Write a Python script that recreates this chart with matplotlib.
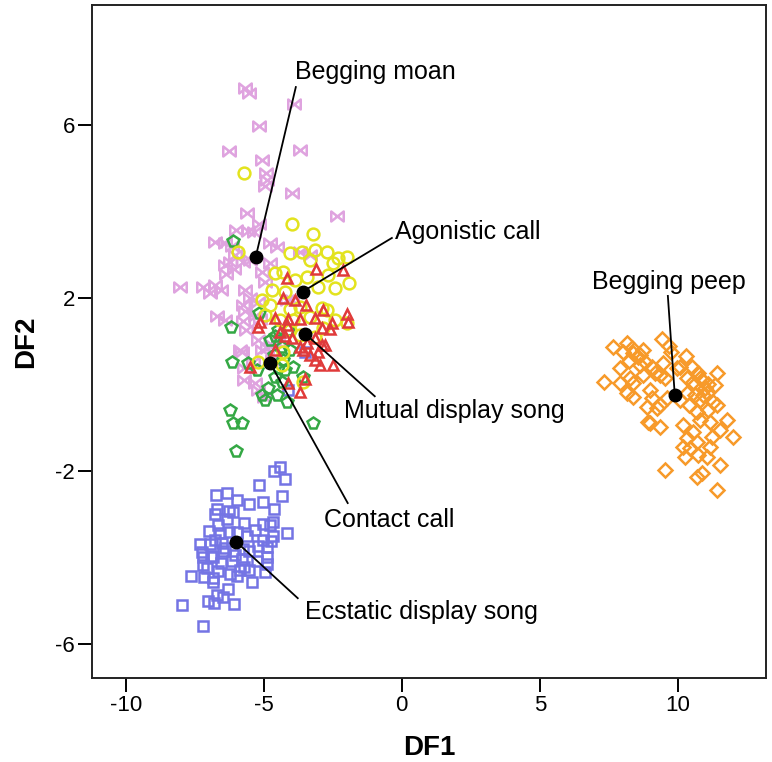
import numpy as np
import matplotlib
matplotlib.use("Agg")
import matplotlib.pyplot as plt
from matplotlib.path import Path

plt.rcParams["font.family"] = ["Liberation Sans", "DejaVu Sans"]
plt.rcParams["axes.unicode_minus"] = False

# ── discriminant scores ──────────────────────────────────────────────────
moan_x = [-5.69, -5.54, -3.91, -5.18, -6.27, -3.70, -5.07, -4.93, -4.89, -4.96,
          -3.99, -5.62, -5.18, -2.36, -6.01, -5.58, -5.36, -6.78, -6.16, -6.41,
          -4.78, -3.70, -3.33, -6.38, -6.09, -5.07, -5.51, -5.76, -8.04, -7.21,
          -6.78, -6.56, -6.96, -5.69, -4.96, -5.76, -5.51, -5.22, -5.69, -5.33,
          -6.70, -6.41, -5.76, -5.14, -5.65, -5.07, -4.89, -5.87, -5.80, -5.40,
          -5.72, -5.72, -5.33, -5.00, -5.22, -4.17, -3.99, -4.71, -4.71, -4.49,
          -5.22, -6.05, -6.23, -6.41, -4.78, -4.53]
moan_y = [6.86, 6.74, 6.49, 5.98, 5.40, 5.42, 5.19, 4.89, 4.73, 4.59,
          4.43, 3.97, 3.71, 3.90, 3.57, 3.55, 3.53, 3.29, 3.20, 3.27,
          3.27, 3.06, 2.99, 2.55, 2.67, 2.60, 2.88, 2.83, 2.25, 2.25,
          2.30, 2.18, 2.12, 2.18, 2.37, 1.84, 2.00, 1.91, 1.70, 1.58,
          1.58, 1.49, 1.47, 1.51, 1.26, 0.80, 0.84, 0.80, 0.75, 0.52,
          0.38, 0.10, 0.03, -0.29, 1.03, 1.95, 1.95, 0.57, 0.91, 0.96,
          -0.13, 2.99, 2.83, 2.76, 2.81, 3.18]

agon_x = [-5.72, -3.99, -3.22, -5.94, -4.06, -3.62, -3.15, -2.72, -1.99, -2.50,
          -2.32, -3.33, -4.60, -4.31, -3.88, -3.44, -3.04, -2.68, -2.43, -4.71,
          -4.24, -4.78, -4.06, -3.70, -3.33, -2.90, -2.43, -1.99, -3.95, -4.31,
          -4.35, -3.59, -5.22, -3.15, -2.86, -1.92, -4.96, -5.07, -4.42, -4.06,
          -3.70, -2.72]
agon_y = [4.89, 3.71, 3.48, 3.06, 3.04, 3.06, 3.11, 3.06, 2.95, 2.81,
          2.92, 2.88, 2.58, 2.60, 2.42, 2.49, 2.25, 2.53, 2.23, 2.18,
          2.14, 1.84, 1.75, 1.79, 1.56, 1.77, 1.49, 1.42, 1.49, 0.75,
          0.45, 0.06, 0.52, 1.10, 1.31, 2.35, 1.61, 1.95, 1.49, 1.26,
          1.14, 1.72]

mutual_x = [-3.12, -4.17, -4.31, -3.88, -3.48, -2.86, -1.99, -3.15, -3.70, -4.13,
            -5.22, -4.17, -2.90, -2.54, -2.61, -4.24, -3.99, -3.15, -2.90, -2.79,
            -3.70, -3.59, -4.60, -5.51, -2.97, -2.50, -4.13, -3.51, -3.44, -2.14,
            -1.96, -3.70, -3.15, -4.60, -5.14, -4.42, -3.33, -3.04]
mutual_y = [2.67, 2.46, 2.00, 1.95, 1.84, 1.72, 1.63, 1.54, 1.51, 1.51,
            1.33, 1.38, 1.31, 1.42, 1.28, 1.12, 1.08, 1.08, 0.91, 0.91,
            0.87, 0.80, 0.80, 0.40, 0.45, 0.45, 0.03, 0.13, 0.96, 2.65,
            1.45, -0.17, 0.57, 1.54, 1.45, 1.21, 0.68, 0.75]

contact_x = [-6.12, -5.18, -6.20, -4.49, -4.60, -4.13, -6.16, -5.58, -5.25, -4.31,
             -3.95, -4.49, -4.60, -4.35, -5.07, -4.53, -4.96, -4.17, -6.23, -6.12,
             -5.80, -3.22, -4.06, -4.35, -3.59, -4.24, -6.01, -4.78, -4.86, -4.64]
contact_y = [3.32, 1.65, 1.33, 1.26, 1.12, 1.26, 0.52, 0.50, 0.34, 0.57,
             0.40, 0.38, 0.17, 0.06, -0.24, -0.24, -0.36, -0.40, -0.59, -0.89,
             -0.89, -0.89, 0.80, 0.87, 0.17, 0.34, -1.54, 1.03, -0.08, 0.68]

ecstatic_x = [-4.42, -4.64, -4.24, -5.18, -6.74, -6.34, -5.98, -4.35, -5.04, -5.54,
              -4.64, -6.70, -6.27, -6.12, -6.78, -6.34, -6.67, -5.72, -5.04, -4.67,
              -4.78, -6.99, -6.59, -6.27, -5.98, -5.62, -4.17, -4.67, -5.04, -4.75,
              -4.89, -7.32, -6.96, -6.52, -6.49, -5.76, -5.54, -6.92, -7.25, -7.21,
              -6.85, -7.21, -6.56, -6.16, -5.80, -5.25, -4.89, -4.89, -7.07, -6.67,
              -6.23, -5.87, -5.54, -4.96, -7.64, -7.17, -6.85, -6.85, -5.98, -5.43,
              -6.30, -6.70, -6.49, -7.03, -6.81, -6.09, -7.97, -7.21, -6.78, -6.41,
              -5.33, -6.05, -5.22, -5.72, -3.51, -4.13]
ecstatic_y = [-1.91, -2.00, -2.18, -2.32, -2.56, -2.51, -2.67, -2.58, -2.72, -2.76,
              -2.88, -2.88, -2.92, -2.95, -2.99, -3.11, -3.25, -3.20, -3.22, -3.18,
              -3.25, -3.39, -3.43, -3.41, -3.41, -3.50, -3.43, -3.50, -3.60, -3.62,
              -3.76, -3.69, -3.69, -3.66, -3.84, -3.80, -3.84, -3.96, -3.87, -3.98,
              -3.98, -4.17, -4.12, -4.08, -4.03, -4.08, -3.98, -4.14, -4.24, -4.31,
              -4.38, -4.29, -4.29, -4.33, -4.43, -4.45, -4.47, -4.57, -4.43, -4.57,
              -4.73, -4.87, -4.91, -5.00, -5.05, -5.07, -5.09, -5.58, -3.60, -3.78,
              -3.36, -3.94, -3.73, -4.22, 0.75, -0.13]

peep_x = [9.42, 7.64, 8.15, 8.01, 8.37, 8.55, 8.73, 8.22, 8.62, 9.06,
          9.46, 9.75, 9.67, 10.29, 10.07, 9.96, 7.90, 7.32, 7.90, 8.26,
          8.37, 8.73, 9.17, 9.35, 9.53, 10.51, 10.72, 10.33, 10.54, 10.87,
          11.41, 11.34, 11.05, 11.27, 10.80, 10.40, 10.07, 10.33, 10.62, 8.15,
          8.37, 8.99, 9.06, 9.35, 8.88, 9.24, 9.60, 10.69, 11.09, 11.41,
          11.78, 11.52, 11.16, 10.80, 10.18, 10.54, 11.23, 11.99, 10.33, 10.69,
          10.18, 10.43, 11.16, 8.99, 9.35, 8.91, 10.25, 10.72, 11.05, 9.53,
          10.69, 10.87, 11.52, 11.41, 8.33, 8.62, 10.80, 10.98, 11.09, 10.91,
          8.80]
peep_y = [1.05, 0.87, 0.96, 0.75, 0.73, 0.64, 0.80, 0.54, 0.45, 0.40,
          0.50, 0.75, 0.89, 0.66, 0.40, 0.38, 0.38, 0.06, 0.03, 0.15,
          0.03, 0.22, 0.27, 0.22, 0.15, 0.40, 0.27, 0.15, 0.06, 0.10,
          0.27, -0.01, -0.20, -0.40, -0.36, -0.47, -0.36, -0.20, -0.24, -0.20,
          -0.29, -0.13, -0.31, -0.47, -0.52, -0.54, -0.31, -0.64, -0.59, -0.47,
          -0.82, -1.05, -0.87, -0.82, -0.94, -1.10, -1.21, -1.21, -1.24, -1.33,
          -1.45, -1.47, -1.45, -0.89, -0.98, -0.87, -1.68, -1.63, -1.68, -1.98,
          -2.14, -2.05, -1.86, -2.44, 0.84, 0.68, 0.15, -0.08, 0.01, -0.24,
          0.52]

# group centroids
cent_names = ["Begging moan", "Agonistic call", "Mutual display song",
              "Contact call", "Begging peep", "Ecstatic display song"]
cent_x = [-5.29, -3.59, -3.51, -4.78, 9.89, -6.01]
cent_y = [2.96, 2.15, 1.18, 0.51, -0.23, -3.63]

# label positions (text centre) and where the leader line meets the label
label_x = [-0.94, 2.39, 1.92, -0.47, 9.67, 0.72]
label_y = [7.23, 3.53, -0.61, -3.13, 2.37, -5.26]
lead_x = [-3.84, -0.36, -0.98, -1.96, 9.64, -3.77]
lead_y = [6.88, 3.39, -0.27, -2.74, 2.05, -4.94]

# bow-tie marker for begging moan (slightly wider than tall)
bowtie = Path([(-1.25, -1), (-1.25, 1), (1.25, -1), (1.25, 1), (-1.25, -1)],
              [Path.MOVETO, Path.LINETO, Path.LINETO, Path.LINETO, Path.CLOSEPOLY])

groups = [
    (moan_x, moan_y, bowtie, "#DFA3DF", 9),
    (ecstatic_x, ecstatic_y, "s", "#7474E4", 7.5),
    (peep_x, peep_y, "D", "#F79A2A", 7),
    (contact_x, contact_y, "p", "#34A844", 8.5),
    (agon_x, agon_y, "o", "#E3E31E", 8.5),
    (mutual_x, mutual_y, "^", "#E03A3A", 7.5),
]

fig = plt.figure(figsize=(7.72, 7.62), dpi=100)
ax = fig.add_axes([0.119, 0.110, 0.873, 0.883])

for gx, gy, mk, col, ms in groups:
    ax.plot(gx, gy, linestyle="none", marker=mk, markersize=ms,
            markerfacecolor="none", markeredgecolor=col, markeredgewidth=1.8)

for i in range(len(cent_names)):
    ax.plot([cent_x[i], lead_x[i]], [cent_y[i], lead_y[i]], color="black", lw=1.3, zorder=4)
    ax.text(label_x[i], label_y[i], cent_names[i], fontsize=18, ha="center", va="center", zorder=5)

ax.plot(cent_x, cent_y, linestyle="none", marker="o", markersize=9,
        color="black", zorder=6)

ax.set_xlim(-11.23, 13.19)
ax.set_ylim(-6.79, 8.77)
ax.set_xticks([-10, -5, 0, 5, 10])
ax.set_yticks([-6, -2, 2, 6])
ax.tick_params(direction="out", length=10, width=1.4, labelsize=16, pad=2)
for s in ax.spines.values():
    s.set_linewidth(1.4)
    s.set_color("#222222")

ax.set_xlabel("DF1", fontsize=20, fontweight="bold", labelpad=14)
ax.set_ylabel("DF2", fontsize=20, fontweight="bold", labelpad=12)

fig.savefig("out.png", dpi=100, facecolor="white")
